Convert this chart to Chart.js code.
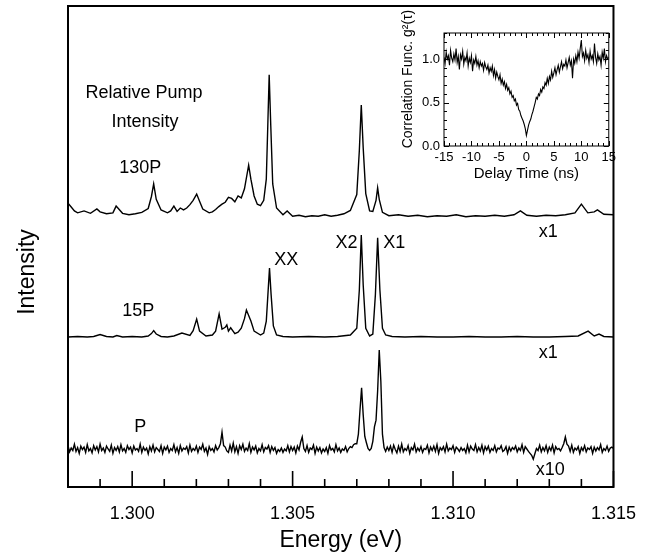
<!DOCTYPE html>
<html>
<head>
<meta charset="utf-8">
<script src="https://cdn.jsdelivr.net/npm/chart.js@4.4.0/dist/chart.umd.min.js"></script>
<style>
  body { margin: 0; background: #fff; }
  #wrap { position: relative; width: 652px; height: 557px; }
  #mainChart { position: absolute; left: 0; top: 0; }
  #insetChart { position: absolute; left: 395px; top: 5px; }
</style>
</head>
<body>
<div id="wrap">
  <canvas id="mainChart" width="652" height="557"></canvas>
  <canvas id="insetChart" width="225" height="185"></canvas>
</div>
<script>
// 130P spectrum (energy in eV, intensity in arb. units incl. offset)
const energy130 = [
  1.2980, 1.2981, 1.2982, 1.2983, 1.2985, 1.2987, 1.2989, 1.2990, 1.2992, 1.2994,
  1.2995, 1.2997, 1.2999, 1.3001, 1.3003, 1.3005, 1.30060, 1.30067, 1.30075, 1.3009,
  1.3011, 1.3012, 1.3013, 1.3014, 1.3015, 1.3016, 1.3017, 1.3018, 1.3019, 1.30201,
  1.3021, 1.3022, 1.3024, 1.3025, 1.3026, 1.3027, 1.3028, 1.3029, 1.3030, 1.3031,
  1.3032, 1.3033, 1.3034, 1.3035, 1.30363, 1.3037, 1.3038, 1.3039, 1.3040, 1.3041,
  1.30418, 1.30423, 1.30427, 1.30432, 1.30438, 1.3045, 1.3047, 1.30483, 1.3050, 1.3052,
  1.3054, 1.3056, 1.3058, 1.3060, 1.3062, 1.3064, 1.3066, 1.3068, 1.3070, 1.30708,
  1.30714, 1.30720, 1.30728, 1.3074, 1.3075, 1.3076, 1.30765, 1.3077, 1.3078, 1.3080,
  1.3083, 1.3086, 1.3089, 1.3092, 1.3095, 1.3098, 1.3101, 1.3104, 1.3107, 1.3110,
  1.3113, 1.3116, 1.3119, 1.3121, 1.3123, 1.3126, 1.3129, 1.3132, 1.3135, 1.3138,
  1.3140, 1.3142, 1.3144, 1.3145, 1.3147, 1.3150
];
const counts130 = [
  59.0, 58.2, 57.4, 57.0, 57.4, 56.9, 57.8, 57.2, 56.8, 57.0,
  58.4, 56.9, 56.6, 56.8, 57.1, 57.9, 60.4, 63.0, 59.8, 57.6,
  57.0, 57.4, 58.4, 57.3, 58.0, 57.6, 58.0, 58.7, 59.6, 60.9,
  59.4, 57.8, 57.0, 57.2, 57.7, 58.3, 58.8, 59.2, 60.2, 60.0,
  59.3, 60.5, 60.1, 62.0, 66.9, 64.0, 60.5, 58.8, 58.5, 59.6,
  64.0, 76.0, 85.7, 75.0, 63.0, 58.0, 56.6, 57.4, 56.3, 56.5,
  56.2, 56.4, 56.3, 56.6, 56.3, 56.5, 56.8, 57.5, 60.8, 70.0,
  79.4, 70.5, 61.0, 57.4, 57.3, 59.6, 62.2, 59.8, 57.1, 56.4,
  56.6, 56.3, 56.5, 56.2, 56.4, 56.3, 56.6, 56.2, 56.4, 56.3,
  56.5, 56.3, 56.6, 57.4, 56.5, 56.3, 56.5, 56.4, 56.6, 57.0,
  58.8, 57.0, 57.2, 57.6, 56.7, 56.6
];

// 15P spectrum
const energy15 = [
  1.2980, 1.2983, 1.2986, 1.2988, 1.2990, 1.2992, 1.2994, 1.29952, 1.2997, 1.3000,
  1.3003, 1.3005, 1.30060, 1.30067, 1.30075, 1.3009, 1.3011, 1.3013, 1.30155, 1.3018,
  1.3019, 1.30201, 1.3021, 1.3023, 1.3025, 1.3026, 1.30271, 1.3028, 1.30290, 1.30295,
  1.30300, 1.30307, 1.3032, 1.3033, 1.3034, 1.3035, 1.30356, 1.3037, 1.3038, 1.3040,
  1.3041, 1.30418, 1.30423, 1.30428, 1.30433, 1.30440, 1.3045, 1.3047, 1.3050, 1.3055,
  1.3060, 1.3064, 1.3068, 1.3070, 1.30708, 1.30714, 1.30720, 1.30728, 1.30740, 1.30750,
  1.30758, 1.30765, 1.30772, 1.30780, 1.3079, 1.3081, 1.3085, 1.3090, 1.3095, 1.3100,
  1.3105, 1.3110, 1.3115, 1.3120, 1.3125, 1.3130, 1.3135, 1.3139, 1.31421, 1.3144,
  1.31455, 1.3147, 1.3150
];
const counts15 = [
  31.2, 31.3, 31.2, 31.3, 31.7, 31.3, 31.2, 31.5, 31.2, 31.3,
  31.2, 31.4, 31.9, 32.5, 31.8, 31.3, 31.2, 31.4, 32.0, 31.5,
  32.5, 34.9, 32.4, 31.4, 31.6, 32.4, 36.0, 32.8, 33.2, 33.7,
  32.4, 33.1, 31.9, 32.2, 33.0, 35.0, 36.8, 34.5, 32.4, 31.6,
  32.0, 34.5, 40.0, 45.5, 40.0, 33.5, 31.6, 31.3, 31.2, 31.3,
  31.2, 31.3, 31.6, 33.0, 41.0, 52.4, 42.0, 33.0, 31.4, 31.8,
  40.0, 51.8, 41.0, 33.0, 31.6, 31.3, 31.2, 31.3, 31.2, 31.2,
  31.3, 31.2, 31.2, 31.3, 31.2, 31.2, 31.3, 31.4, 32.4, 31.4,
  31.8, 31.3, 31.2
];

// P spectrum (x10), sampled every 0.05 meV from 1.2980 eV (one row = 1 meV)
const pStart = 1.2980;
const pStep = 0.00005;
const countsP = [
  8.6, 7.3, 8.1, 7.6, 8.9, 7.4, 8.2, 7.0, 8.5, 7.8, 8.3, 7.2, 8.8, 7.5, 8.0, 7.1, 8.6, 7.7, 8.4, 7.3,
  8.9, 7.6, 8.1, 7.2, 8.5, 7.9, 7.4, 8.7, 7.0, 8.2, 7.6, 8.4, 7.3, 8.8, 7.5, 8.0, 7.2, 8.6, 7.8, 8.3,
  7.1, 8.5, 7.7, 8.0, 7.4, 8.9, 7.2, 8.3, 7.6, 8.1, 6.9, 8.4, 7.5, 8.7, 7.3, 8.2, 7.8, 7.4, 8.6, 7.0,
  8.3, 7.7, 8.5, 7.2, 8.0, 7.6, 8.8, 7.3, 8.2, 7.0, 8.6, 7.5, 8.1, 7.8, 8.4, 7.1, 8.7, 7.4, 8.0, 7.6,
  8.5, 7.2, 8.3, 7.8, 8.9, 7.4, 8.1, 6.8, 8.4, 7.6, 8.0, 7.3, 8.6, 7.7, 8.2, 9.0, 11.4, 8.6, 8.3, 7.5,
  7.2, 8.7, 7.5, 9.1, 7.3, 8.4, 7.0, 8.6, 7.8, 8.9, 7.4, 8.1, 7.6, 9.0, 7.2, 8.3, 7.7, 8.5, 7.1, 8.0,
  7.5, 8.8, 7.3, 8.2, 7.9, 8.6, 7.2, 8.4, 7.6, 8.2, 7.0, 7.8, 7.4, 8.1, 7.2, 7.9, 7.5, 8.6, 7.3, 8.4,
  7.6, 8.3, 7.1, 8.5, 7.7, 9.3, 10.4, 8.0, 7.4, 8.6, 7.2, 8.1, 7.8, 8.7, 7.0, 8.3, 7.5, 8.2, 7.1, 7.9,
  7.4, 8.2, 7.0, 8.6, 7.7, 8.0, 7.3, 8.8, 7.5, 8.1, 7.2, 7.9, 7.6, 8.4, 7.3, 8.0, 8.4, 8.2, 8.8, 9.0,
  9.0, 11.0, 16.0, 20.6, 15.0, 10.5, 9.2, 8.0, 7.6, 8.0, 9.5, 12.5, 13.9, 20.0, 28.5, 22.0, 11.0, 8.2, 7.4, 8.3,
  7.6, 8.5, 7.2, 8.7, 7.8, 7.1, 8.5, 7.4, 8.9, 7.3, 8.0, 7.6, 8.6, 7.0, 8.2, 7.7, 8.9, 7.3, 8.1, 7.5,
  8.4, 7.2, 8.0, 7.8, 8.7, 7.1, 8.3, 7.6, 8.5, 7.4, 8.8, 7.0, 8.2, 7.7, 8.4, 7.3, 8.9, 7.5, 8.1, 7.8,
  8.6, 7.2, 8.3, 7.9, 7.4, 8.2, 7.6, 8.0, 7.1, 8.7, 7.3, 8.5, 7.9, 7.6, 8.8, 7.3, 8.2, 7.5, 8.7, 7.1,
  8.4, 7.7, 8.5, 7.2, 8.0, 7.6, 8.6, 7.3, 8.1, 7.9, 8.6, 7.4, 7.7, 8.4, 7.0, 8.3, 7.5, 8.2, 7.8, 8.5,
  7.3, 8.1, 7.6, 8.8, 7.2, 8.4, 7.9, 7.4, 7.0, 6.6, 5.8, 6.9, 8.0, 7.6, 8.7, 7.3, 8.2, 7.5, 8.6, 7.2,
  8.3, 7.6, 8.7, 7.1, 8.4, 7.8, 8.0, 7.5, 8.2, 9.0, 10.4, 8.9, 8.5, 7.4, 8.7, 7.2, 8.1, 7.7, 8.4, 7.0,
  8.2, 7.6, 8.6, 7.3, 8.1, 7.8, 8.4, 7.0, 8.3, 7.5, 8.2, 7.7, 8.8, 7.2, 8.0, 7.6, 8.5, 7.4, 8.1, 8.3,
  8.0
];
const energyP = countsP.map((_, i) => pStart + i * pStep);

// Inset: g2(tau), sampled every 0.2 ns from -15 ns
const tauStart = -15;
const tauStep = 0.2;
const g2 = [
  1.02, 0.95, 1.08, 1.00, 1.04, 0.93, 1.10, 1.01, 0.97, 1.06,
  0.99, 1.12, 0.96, 1.03, 0.88, 1.05, 1.00, 1.09, 0.94, 1.02,
  0.98, 1.07, 0.92, 1.01, 0.96, 1.04, 0.86, 0.99, 0.95, 1.03,
  0.93, 0.98, 0.90, 0.97, 0.92, 0.95, 0.87, 0.96, 0.91, 0.88,
  0.93, 0.84, 0.90, 0.86, 0.92, 0.81, 0.88, 0.78, 0.85, 0.80,
  0.76, 0.82, 0.72, 0.77, 0.70, 0.74, 0.66, 0.71, 0.64, 0.67,
  0.60, 0.63, 0.56, 0.58, 0.52, 0.54, 0.47, 0.49, 0.42, 0.40,
  0.35, 0.32, 0.29, 0.25, 0.20, 0.12, 0.18, 0.24, 0.28, 0.31,
  0.36, 0.40, 0.45, 0.50, 0.56, 0.54, 0.60, 0.58, 0.65, 0.62,
  0.68, 0.66, 0.73, 0.70, 0.78, 0.72, 0.80, 0.76, 0.86, 0.79,
  0.84, 0.90, 0.82, 0.88, 0.93, 0.85, 0.91, 0.97, 0.89, 0.94,
  0.92, 0.99, 0.90, 0.96, 1.02, 0.93, 0.98, 0.78, 1.00, 0.95,
  1.04, 0.97, 1.08, 1.01, 1.12, 1.22, 1.03, 1.07, 0.98, 1.10,
  1.01, 1.05, 0.96, 1.09, 1.00, 1.04, 0.97, 1.18, 1.02, 0.95,
  1.06, 0.99, 1.03, 0.93, 1.08, 1.01, 1.12, 0.97, 1.04, 1.00,
  1.02
];
const tau = g2.map((_, i) => tauStart + i * tauStep);

const FONT = '"Liberation Sans", Arial, Helvetica, sans-serif';
Chart.defaults.font.family = FONT;
Chart.defaults.color = '#000';

function toPoints(xs, ys) {
  return xs.map((v, i) => ({ x: v, y: ys[i] }));
}

function isMajorEnergy(v) {
  return Math.round(v * 1000) % 5 === 0;
}

// frame, inward ticks and in-plot labels of the main panel
const mainDecor = {
  id: 'mainDecor',
  afterDraw(chart) {
    const { ctx, chartArea: a, scales: { x, y } } = chart;
    ctx.save();
    ctx.strokeStyle = '#000';
    ctx.lineWidth = 2;
    ctx.strokeRect(a.left, a.top, a.right - a.left, a.bottom - a.top);

    ctx.lineWidth = 1.6;
    x.ticks.forEach(t => {
      const px = x.getPixelForValue(t.value);
      const len = isMajorEnergy(t.value) ? 16 : 8;
      ctx.beginPath();
      ctx.moveTo(px, a.bottom);
      ctx.lineTo(px, a.bottom - len);
      ctx.stroke();
    });

    const notes = [
      ['Relative Pump', 1.30037, 81.9],
      ['Intensity', 1.30040, 75.9],
      ['130P', 1.30025, 66.3],
      ['15P', 1.30019, 36.6],
      ['XX', 1.30480, 47.2],
      ['X2', 1.30668, 50.7],
      ['X1', 1.30817, 50.7],
      ['x1', 1.31297, 53.0],
      ['x1', 1.31297, 27.9],
      ['P', 1.30025, 12.5],
      ['x10', 1.31303, 3.5]
    ];
    ctx.fillStyle = '#000';
    ctx.font = '18px ' + FONT;
    ctx.textAlign = 'center';
    ctx.textBaseline = 'middle';
    notes.forEach(([text, e, v]) => {
      ctx.fillText(text, x.getPixelForValue(e), y.getPixelForValue(v));
    });

    ctx.font = '23px ' + FONT;
    ctx.translate(28, 272);
    ctx.rotate(-Math.PI / 2);
    ctx.fillText('Intensity', 0, 0);
    ctx.restore();
  }
};

const trace = (data) => ({
  data: data,
  borderColor: '#000',
  borderWidth: 1.4,
  pointRadius: 0,
  tension: 0,
  fill: false
});

new Chart(document.getElementById('mainChart'), {
  type: 'line',
  data: {
    datasets: [
      trace(toPoints(energy130, counts130)),
      trace(toPoints(energy15, counts15)),
      trace(toPoints(energyP, countsP))
    ]
  },
  options: {
    responsive: false,
    animation: false,
    layout: { padding: { left: 68, top: 6, right: 24, bottom: 0 } },
    plugins: { legend: { display: false }, tooltip: { enabled: false } },
    scales: {
      x: {
        type: 'linear',
        min: 1.298,
        max: 1.315,
        grid: { display: false, drawTicks: false },
        border: { display: false },
        ticks: {
          stepSize: 0.001,
          autoSkip: false,
          maxRotation: 0,
          padding: 16,
          font: { size: 18 },
          callback: (v) => isMajorEnergy(v) ? v.toFixed(3) : ''
        },
        title: {
          display: true,
          text: 'Energy (eV)',
          font: { size: 23 },
          padding: { top: 0, bottom: 3 }
        },
        afterFit: (s) => { s.height = 70; }
      },
      y: {
        display: false,
        min: 0,
        max: 100
      }
    }
  },
  plugins: [mainDecor]
});

// inset frame with inward ticks on all four sides, plus its y title
const insetDecor = {
  id: 'insetDecor',
  afterDraw(chart) {
    const { ctx, chartArea: a, scales: { x, y } } = chart;
    ctx.save();
    ctx.strokeStyle = '#000';
    ctx.lineWidth = 1;
    ctx.strokeRect(a.left, a.top, a.right - a.left, a.bottom - a.top);
    x.ticks.forEach(t => {
      const px = Math.round(x.getPixelForValue(t.value)) + 0.5;
      const len = t.value % 5 === 0 ? 5 : 3;
      ctx.beginPath();
      ctx.moveTo(px, a.bottom); ctx.lineTo(px, a.bottom - len);
      ctx.moveTo(px, a.top); ctx.lineTo(px, a.top + len);
      ctx.stroke();
    });
    y.ticks.forEach(t => {
      const py = Math.round(y.getPixelForValue(t.value)) + 0.5;
      const len = Math.round(t.value * 10) % 5 === 0 ? 5 : 3;
      ctx.beginPath();
      ctx.moveTo(a.left, py); ctx.lineTo(a.left + len, py);
      ctx.moveTo(a.right, py); ctx.lineTo(a.right - len, py);
      ctx.stroke();
    });

    ctx.fillStyle = '#000';
    ctx.font = '14px ' + FONT;
    ctx.textAlign = 'center';
    ctx.textBaseline = 'middle';
    ctx.translate(13, 74);
    ctx.rotate(-Math.PI / 2);
    ctx.fillText('Correlation Func. g²(τ)', 0, 0);
    ctx.restore();
  }
};

new Chart(document.getElementById('insetChart'), {
  type: 'line',
  data: {
    datasets: [{
      data: toPoints(tau, g2),
      borderColor: '#000',
      borderWidth: 1.1,
      pointRadius: 0,
      tension: 0,
      fill: false
    }]
  },
  options: {
    responsive: false,
    animation: false,
    layout: { padding: { left: 0, top: 28, right: 11, bottom: 0 } },
    plugins: { legend: { display: false }, tooltip: { enabled: false } },
    scales: {
      x: {
        type: 'linear',
        min: -15,
        max: 15,
        grid: { display: false, drawTicks: false },
        border: { display: false },
        ticks: {
          stepSize: 1,
          autoSkip: false,
          maxRotation: 0,
          padding: 4,
          font: { size: 13 },
          callback: (v) => v % 5 === 0 ? String(v) : ''
        },
        title: {
          display: true,
          text: 'Delay Time (ns)',
          font: { size: 15 },
          padding: { top: 0, bottom: 7 }
        },
        afterFit: (s) => { s.height = 44; }
      },
      y: {
        min: 0,
        max: 1.3,
        grid: { display: false, drawTicks: false },
        border: { display: false },
        ticks: {
          stepSize: 0.1,
          autoSkip: false,
          padding: 4,
          font: { size: 13 },
          callback: (v) => Math.round(v * 10) % 5 === 0 ? v.toFixed(1) : ''
        },
        title: { display: false },
        afterFit: (s) => { s.width = 49; }
      }
    }
  },
  plugins: [insetDecor]
});
</script>
</body>
</html>
